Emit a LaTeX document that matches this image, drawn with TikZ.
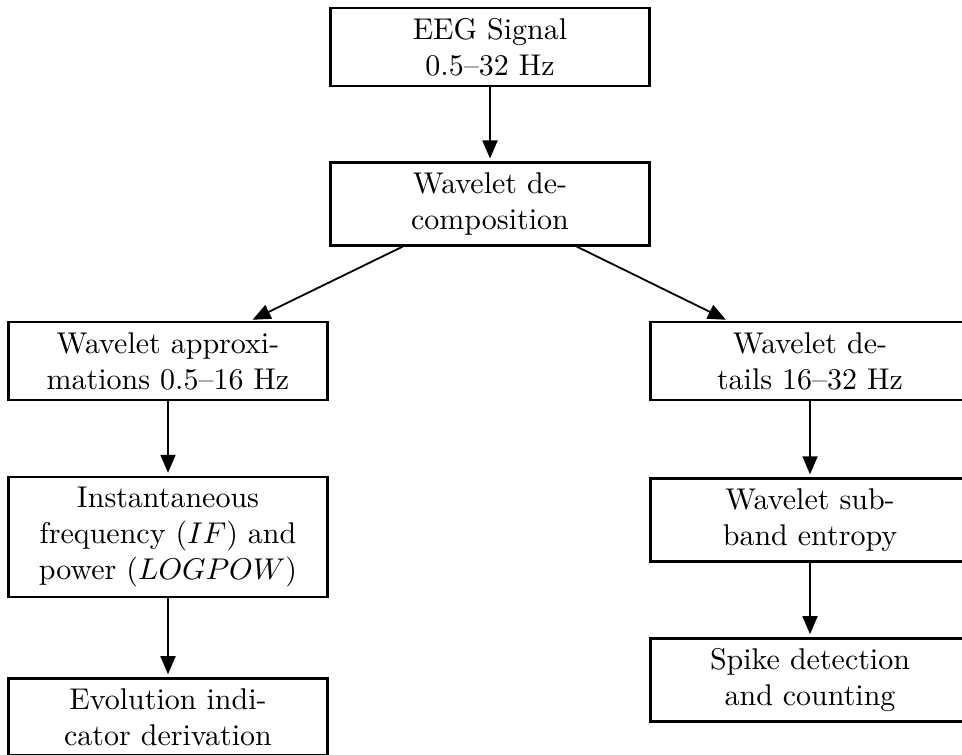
\documentclass[tikz,border=0pt]{standalone}
\usetikzlibrary{arrows.meta}
\begin{document}
\begin{tikzpicture}[x=0.33333pt,y=-0.33333pt,
  box/.style={draw,line width=0.8pt,text width=3.5cm,align=center,inner sep=3.33pt},
  arr/.style={line width=0.6pt,-{Triangle[width=5pt,length=6pt]},shorten >=1pt}]
\useasboundingbox (0,0) rectangle (962,754);
\node[box] (eeg) at (490,47) {EEG Signal\\0.5--32 Hz};
\node[box] (wd) at (490,204) {Wavelet de-\\composition};
\node[box] (wa) at (168,361) {Wavelet approxi-\\mations 0.5--16 Hz};
\node[box] (wdet) at (810,361) {Wavelet de-\\tails 16--32 Hz};
\node[box] (if) at (168,537) {Instantaneous\\frequency ($IF$) and\\power ($LOGPOW$)};
\node[box] (wse) at (810,520) {Wavelet sub-\\band entropy};
\node[box] (sdc) at (810,680) {Spike detection\\and counting};
\node[box] (eid) at (168,717) {Evolution indi-\\cator derivation};
\draw[arr] (eeg) -- (wd);
\draw[arr] (wd) -- (wa);
\draw[arr] (wd) -- (wdet);
\draw[arr] (wa) -- (if);
\draw[arr] (if) -- (eid);
\draw[arr] (wdet) -- (wse);
\draw[arr] (wse) -- (sdc);
\end{tikzpicture}
\end{document}
